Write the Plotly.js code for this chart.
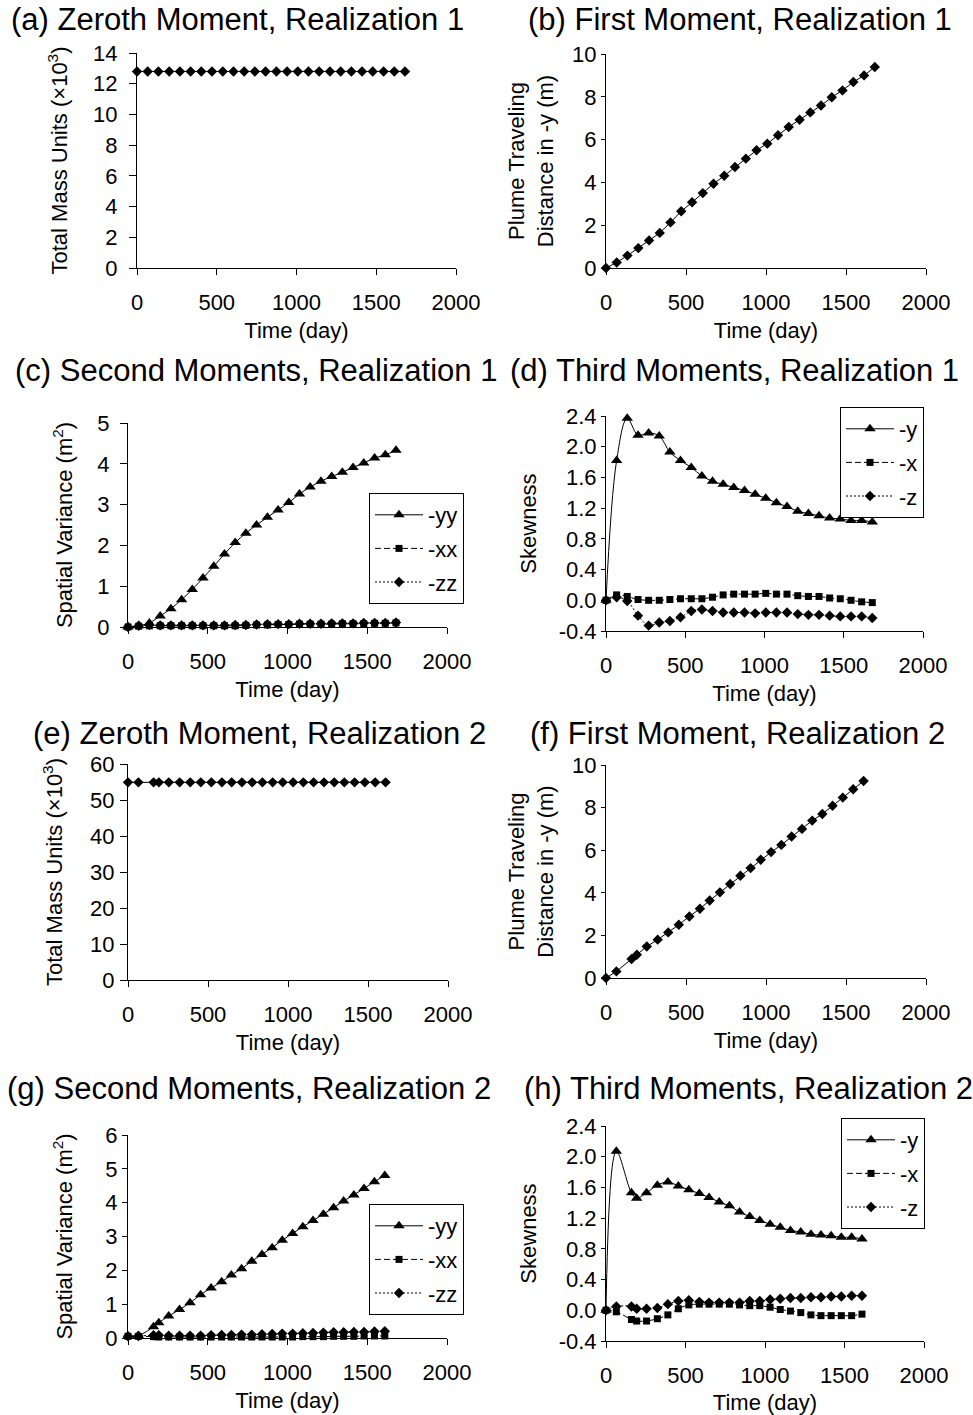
<!DOCTYPE html>
<html>
<head>
<meta charset="utf-8">
<script src="https://cdn.plot.ly/plotly-3.0.1.min.js"></script>
<style>html,body{margin:0;padding:0;background:#fff}#chart{width:973px;height:1415px}</style>
</head>
<body>
<div id="chart"></div>
<script>
// ---------- DATA ----------
var timeR1 = [0, 67, 134, 202, 269, 336, 403, 470, 538, 605, 672, 739, 806, 874, 941, 1008, 1075, 1142, 1210, 1277, 1344, 1411, 1478, 1546, 1613, 1680];
var timeR2 = [0, 65, 160, 193, 255, 323, 389, 455, 521, 587, 648, 712, 776, 840, 904, 967, 1032, 1096, 1160, 1225, 1289, 1352, 1416, 1480, 1545, 1610];

var massR1 = [12.8, 12.8, 12.8, 12.8, 12.8, 12.8, 12.8, 12.8, 12.8, 12.8, 12.8, 12.8, 12.8, 12.8, 12.8, 12.8, 12.8, 12.8, 12.8, 12.8, 12.8, 12.8, 12.8, 12.8, 12.8, 12.8];
var massR2 = [54.9, 54.9, 54.9, 54.9, 54.9, 54.9, 54.9, 54.9, 54.9, 54.9, 54.9, 54.9, 54.9, 54.9, 54.9, 54.9, 54.9, 54.9, 54.9, 54.9, 54.9, 54.9, 54.9, 54.9, 54.9, 54.9];

var firstR1 = [0, 0.26, 0.58, 0.93, 1.29, 1.64, 2.13, 2.65, 3.07, 3.50, 3.94, 4.31, 4.72, 5.11, 5.50, 5.81, 6.20, 6.59, 6.93, 7.27, 7.59, 7.98, 8.30, 8.69, 9.00, 9.39];
var firstR2 = [0, 0.31, 0.89, 1.09, 1.48, 1.80, 2.14, 2.50, 2.89, 3.25, 3.64, 4.02, 4.41, 4.80, 5.16, 5.55, 5.91, 6.25, 6.64, 7.00, 7.39, 7.70, 8.09, 8.47, 8.86, 9.25];

var varYY_R1 = [0, 0.03, 0.10, 0.27, 0.45, 0.67, 0.92, 1.20, 1.49, 1.79, 2.07, 2.30, 2.50, 2.69, 2.87, 3.05, 3.26, 3.43, 3.57, 3.69, 3.79, 3.91, 4.02, 4.14, 4.22, 4.33];
var varXX_R1 = [0, 0.02, 0.03, 0.03, 0.03, 0.03, 0.03, 0.03, 0.03, 0.03, 0.03, 0.04, 0.05, 0.05, 0.06, 0.06, 0.07, 0.07, 0.07, 0.07, 0.08, 0.08, 0.08, 0.09, 0.09, 0.10];
var varZZ_R1 = [0, 0.03, 0.05, 0.04, 0.04, 0.04, 0.04, 0.04, 0.04, 0.04, 0.05, 0.05, 0.06, 0.07, 0.07, 0.07, 0.08, 0.08, 0.08, 0.09, 0.09, 0.09, 0.10, 0.10, 0.10, 0.11];

var skewY_R1 = [0, 1.82, 2.37, 2.15, 2.18, 2.14, 1.93, 1.82, 1.73, 1.62, 1.55, 1.51, 1.47, 1.43, 1.38, 1.33, 1.27, 1.22, 1.16, 1.13, 1.10, 1.07, 1.06, 1.04, 1.04, 1.02];
var skewX_R1 = [0, 0.07, 0.05, 0.01, 0.00, 0.00, 0.01, 0.02, 0.02, 0.02, 0.04, 0.07, 0.08, 0.08, 0.08, 0.09, 0.08, 0.08, 0.06, 0.05, 0.05, 0.03, 0.02, 0.00, -0.02, -0.03];
var skewZ_R1 = [0, 0.04, -0.01, -0.20, -0.33, -0.29, -0.27, -0.22, -0.14, -0.12, -0.14, -0.16, -0.16, -0.16, -0.17, -0.16, -0.16, -0.16, -0.18, -0.19, -0.19, -0.20, -0.21, -0.21, -0.21, -0.23];

var varYY_R2 = [0.05, 0.07, 0.33, 0.45, 0.65, 0.84, 1.04, 1.28, 1.48, 1.66, 1.86, 2.05, 2.27, 2.47, 2.67, 2.89, 3.09, 3.29, 3.47, 3.66, 3.85, 4.05, 4.23, 4.42, 4.62, 4.80];
var varXX_R2 = [0.05, 0.05, 0.04, 0.03, 0.03, 0.03, 0.03, 0.03, 0.03, 0.03, 0.03, 0.03, 0.03, 0.03, 0.03, 0.03, 0.03, 0.04, 0.04, 0.04, 0.05, 0.05, 0.05, 0.06, 0.06, 0.06];
var varZZ_R2 = [0.05, 0.06, 0.08, 0.08, 0.07, 0.07, 0.07, 0.07, 0.08, 0.09, 0.09, 0.10, 0.10, 0.11, 0.12, 0.13, 0.13, 0.14, 0.15, 0.16, 0.17, 0.17, 0.18, 0.18, 0.19, 0.20];

var skewY_R2 = [0, 2.07, 1.53, 1.46, 1.53, 1.63, 1.67, 1.62, 1.57, 1.52, 1.47, 1.41, 1.36, 1.28, 1.22, 1.17, 1.12, 1.08, 1.04, 1.02, 0.99, 0.98, 0.97, 0.95, 0.95, 0.93];
var skewX_R2 = [0, -0.02, -0.12, -0.14, -0.14, -0.11, -0.06, 0.02, 0.07, 0.08, 0.08, 0.08, 0.08, 0.07, 0.06, 0.06, 0.04, 0.01, -0.01, -0.03, -0.06, -0.07, -0.07, -0.07, -0.07, -0.05];
var skewZ_R2 = [0, 0.05, 0.05, 0.02, 0.02, 0.03, 0.08, 0.12, 0.13, 0.11, 0.10, 0.10, 0.10, 0.10, 0.12, 0.12, 0.14, 0.15, 0.16, 0.16, 0.17, 0.17, 0.18, 0.18, 0.19, 0.19];

// skewness axis tick labels (hyphen minus as in the original)
var skewTickVals = [-0.4, 0, 0.4, 0.8, 1.2, 1.6, 2.0, 2.4];
var skewTickText = ["-0.4", "0.0", "0.4", "0.8", "1.2", "1.6", "2.0", "2.4"];

var panelTitles = [
  "(a) Zeroth Moment, Realization 1", "(b) First Moment, Realization 1",
  "(c) Second Moments, Realization 1", "(d) Third Moments, Realization 1",
  "(e) Zeroth Moment, Realization 2", "(f) First Moment, Realization 2",
  "(g) Second Moments, Realization 2", "(h) Third Moments, Realization 2"
];
var yTitles = [
  "Total Mass Units (\u00d710<sup>3</sup>)", "Plume Traveling<br>Distance in -y (m)",
  "Spatial Variance (m<sup>2</sup>)", "Skewness",
  "Total Mass Units (\u00d710<sup>3</sup>)", "Plume Traveling<br>Distance in -y (m)",
  "Spatial Variance (m<sup>2</sup>)", "Skewness"
];
var xTitle = "Time (day)";
var secondNames = ["-yy", "-xx", "-zz"];
var thirdNames = ["-y", "-x", "-z"];

// ---------- LAYOUT HELPERS ----------
var W = 973, H = 1415;
var FONT = "Liberation Sans, Arial, sans-serif";
// pixel boxes [left, right, top, bottom]
var boxes = [
  [137, 456, 53, 268], [606, 926, 54, 268],
  [128, 447, 423, 627], [606, 923, 416, 631],
  [128, 448, 764, 980], [606, 926, 765, 978],
  [128, 447, 1135, 1338], [606, 924, 1126, 1341]
];
var yRanges = [[0,14],[0,10],[0,5],[-0.4,2.4],[0,60],[0,10],[0,6],[-0.4,2.4]];
var yDticks = [2, 2, 1, 0.4, 10, 2, 1, 0.4];
var yLabelStand = [7, 0, 6, 0, 1, 0, 0, 0];
var yTickLen = [7, 4, 7, 4, 7, 4, 5, 4];
var yTitleStand = [19, 12, 18, 15, 21, 12, 26, 15];
var titlePos = [[237, 19], [740, 19], [256, 370], [734, 370], [259, 734], [737, 734], [249, 1088], [748, 1088]];

var layout = {
  width: W, height: H,
  margin: {l: 0, r: 0, t: 0, b: 0},
  paper_bgcolor: "#fff", plot_bgcolor: "rgba(0,0,0,0)",
  font: {family: FONT, color: "#000", size: 22},
  showlegend: true,
  annotations: []
};

for (var i = 0; i < 8; i++) {
  var b = boxes[i];
  var n = i + 1;
  var isSkew = (yDticks[i] < 1);
  var xa = {
    domain: [b[0] / W, b[1] / W],
    range: [0, 2000], dtick: 500, tick0: 0,
    showline: true, linecolor: "#000", linewidth: 1,
    ticks: "outside", ticklen: 6, tickcolor: "#000", tickwidth: 1,
    ticklabelstandoff: 9,
    showgrid: false, zeroline: false, fixedrange: true,
    tickfont: {size: 22, family: FONT, color: "#000"},
    title: {text: xTitle, font: {size: 22, family: FONT, color: "#000"}, standoff: 8},
    anchor: "y" + (n === 1 ? "" : n)
  };
  var ya = {
    domain: [1 - b[3] / H, 1 - b[2] / H],
    range: yRanges[i],
    showline: true, linecolor: "#000", linewidth: 1,
    ticks: "outside", ticklen: yTickLen[i], tickcolor: "#000", tickwidth: 1,
    ticklabelstandoff: yLabelStand[i],
    showgrid: false, zeroline: false, fixedrange: true,
    tickfont: {size: 22, family: FONT, color: "#000"},
    title: {text: yTitles[i], font: {size: 22, family: FONT, color: "#000"}, standoff: yTitleStand[i]},
    anchor: "x" + (n === 1 ? "" : n)
  };
  if (isSkew) {
    ya.tickmode = "array"; ya.tickvals = skewTickVals; ya.ticktext = skewTickText;
  } else {
    ya.dtick = yDticks[i]; ya.tick0 = 0;
  }
  layout["xaxis" + (n === 1 ? "" : n)] = xa;
  layout["yaxis" + (n === 1 ? "" : n)] = ya;
  layout.annotations.push({
    xref: "paper", yref: "paper",
    x: titlePos[i][0] / W, y: 1 - titlePos[i][1] / H,
    xanchor: "center", yanchor: "middle",
    text: panelTitles[i], showarrow: false, borderpad: 0,
    font: {size: 31, family: FONT, color: "#000"}
  });
}

// legends
var legendBase = {
  bgcolor: "#fff", bordercolor: "#000", borderwidth: 1,
  font: {size: 22, family: FONT, color: "#000"},
  xanchor: "left", yanchor: "top",
  traceorder: "grouped", tracegroupgap: 2,
  itemwidth: 48
};
function legendAt(px, py) {
  var o = JSON.parse(JSON.stringify(legendBase));
  o.x = px / W; o.y = 1 - py / H;
  return o;
}
layout.legend = legendAt(369, 493);
layout.legend2 = legendAt(840, 407);
layout.legend3 = legendAt(369, 1204);
layout.legend4 = legendAt(841, 1118);

// ---------- TRACES ----------
var traces = [];
function ax(n) { return n === 1 ? "" : String(n); }
function single(n, xs, ys) {
  return {
    type: "scatter", mode: "lines+markers", x: xs, y: ys,
    xaxis: "x" + ax(n), yaxis: "y" + ax(n),
    line: {color: "#000", width: 1},
    marker: {symbol: "diamond", size: 8, color: "#000"},
    cliponaxis: false, showlegend: false, hoverinfo: "skip"
  };
}
function triple(n, xs, ys, names, legendId, smooth) {
  var syms = ["triangle-up", "square", "diamond"];
  var sizes = [10, 7, 8];
  var dashes = ["solid", "6px,3px", "2px,2px"];
  var out = [];
  for (var k = 0; k < 3; k++) {
    out.push({
      type: "scatter", mode: "lines+markers", x: xs, y: ys[k], name: names[k],
      xaxis: "x" + ax(n), yaxis: "y" + ax(n),
      line: {color: "#000", width: 1, dash: dashes[k], shape: smooth ? "spline" : "linear", smoothing: 1},
      marker: {symbol: syms[k], size: sizes[k], color: "#000"},
      cliponaxis: false, legend: legendId, legendgroup: legendId + "_" + k,
      hoverinfo: "skip"
    });
  }
  return out;
}

traces.push(single(1, timeR1, massR1));
traces.push(single(2, timeR1, firstR1));
traces = traces.concat(triple(3, timeR1, [varYY_R1, varXX_R1, varZZ_R1], secondNames, "legend", true));
traces = traces.concat(triple(4, timeR1, [skewY_R1, skewX_R1, skewZ_R1], thirdNames, "legend2", true));
traces.push(single(5, timeR2, massR2));
traces.push(single(6, timeR2, firstR2));
traces = traces.concat(triple(7, timeR2, [varYY_R2, varXX_R2, varZZ_R2], secondNames, "legend3", true));
traces = traces.concat(triple(8, timeR2, [skewY_R2, skewX_R2, skewZ_R2], thirdNames, "legend4", true));

Plotly.newPlot("chart", traces, layout, {staticPlot: true, displayModeBar: false});
</script>
</body>
</html>
